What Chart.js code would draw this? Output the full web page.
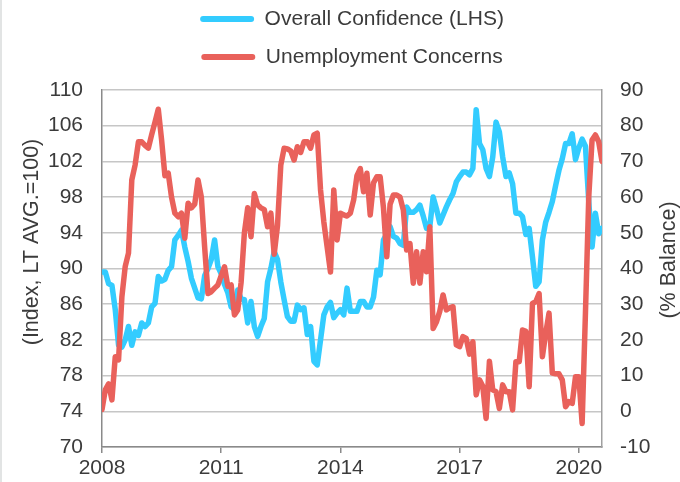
<!DOCTYPE html>
<html>
<head>
<meta charset="utf-8">
<script src="https://cdn.jsdelivr.net/npm/chart.js@4.4.1/dist/chart.umd.min.js"></script>
<style>
  html, body { margin: 0; padding: 0; background: #fff; }
  #wrap { position: relative; width: 680px; height: 482px; }
  #wrap::before { content: ''; position: absolute; left: 0; top: 0; bottom: 0; width: 2px; background: #e2e4e4; }
</style>
</head>
<body>
<div id="wrap"><canvas id="chart" width="680" height="482"></canvas></div>
<script>
// monthly series, Jan 2008 onwards
const startYear = 2008
const tickYears = [2008, 2011, 2014, 2017, 2020]
const seriesNames = ['Overall Confidence (LHS)', 'Unemployment Concerns']
const leftTitle = '(Index, LT AVG.=100)'
const rightTitle = '(% Balance)'

const confidence = [
  89.6, 89.6, 88.3, 88.1, 85.4, 81.4, 81.2, 82.0, 83.5, 81.4, 82.9, 82.5,
  83.9, 83.5, 83.9, 85.7, 86.1, 89.1, 88.6, 88.8, 89.8, 90.2, 93.2, 93.7,
  94.3, 92.4, 90.8, 88.9, 87.8, 86.7, 86.6, 89.2, 90.0, 91.0, 93.2, 90.2,
  89.4, 88.2, 87.3, 85.7, 85.4, 87.6, 86.6, 86.5, 83.9, 86.3, 83.5, 82.4,
  83.5, 84.4, 88.5, 90.0, 91.9, 91.0, 88.5, 86.5, 84.6, 84.1, 84.1, 85.9,
  85.4, 85.6, 82.6, 83.5, 79.6, 79.2, 82.0, 84.8, 85.7, 86.2, 84.5, 85.0,
  85.4, 84.8, 87.8, 85.2, 85.2, 85.2, 86.3, 86.3, 85.7, 85.7, 86.8, 89.8,
  89.3, 93.2, 93.9, 94.7, 93.6, 93.4, 92.8, 92.6, 96.9, 96.3, 96.3, 96.6,
  97.1, 95.9, 94.5, 94.7, 98.0, 96.7, 95.1, 96.0, 96.9, 97.7, 98.4, 99.7,
  100.3, 100.8, 100.8, 100.5, 101.2, 107.8, 104.0, 103.3, 101.2, 100.3, 102.5, 106.4,
  105.3, 102.5, 100.3, 100.7, 99.5, 96.2, 96.2, 95.8, 93.8, 94.5, 91.3, 88.0,
  88.5, 93.2, 95.2, 96.3, 97.5, 99.3, 101.0, 102.3, 104.0, 104.0, 105.1, 102.2,
  103.5, 104.5, 103.7, 97.5, 92.4, 96.2, 93.9, 94.5
]

const unemployment = [
  0.5, 6.0, 7.7, 3.2, 15.3, 14.4, 32, 40.5, 44.3, 64.8, 69, 75.5,
  75.5, 74.5, 73.7, 77.5, 81, 84.6, 76, 66, 66.7, 60, 55.5, 54.5,
  55.5, 48.5, 58.3, 57, 58, 64.8, 60, 46, 33, 33.5, 34.5, 35.4,
  38, 40.5, 35, 35.4, 27, 28.4, 36, 50, 57, 48.9, 61, 57.8,
  57, 56.5, 51.7, 55.5, 44, 52, 69, 73.7, 73.5, 72.9, 70.4, 74.1,
  72.5, 75.5, 75.5, 73.7, 77.4, 77.9, 62, 53, 46, 39, 62, 48,
  55.5, 55, 54.7, 55.5, 59.2, 66, 68, 61.5, 66.7, 55, 64, 65.7,
  65.7, 57, 43.3, 58, 60.6, 60.6, 60, 56.4, 45.2, 47, 35.9, 44.7,
  35.9, 44.7, 39.1, 51.7, 23.2, 25, 28, 32.6, 28.4, 29, 29.3, 18.6,
  18.1, 20.9, 20.4, 16, 19.5, 4.6, 8.8, 7, -2, 14, 6, 5.5,
  0.8, 7.4, 5.5, 5.5, 0.4, 13.9, 13.9, 22.8, 22.4, 6.9, 30.2, 30.7,
  33, 15.3, 21.8, 27.5, 10.7, 10.5, 10.5, 8.8, 1.3, 2.7, 2.2, 9.7,
  9.7, -3.4, 27.5, 60.1, 76, 77.4, 75.5, 70
]

// x position of each month as a fractional year
const months = confidence.map((_, i) => startYear + i / 12)

const font = '"Liberation Sans", Arial, sans-serif'
const textColor = '#3b3b3b'
const blue = '#33ccff'
const red = '#e9615b'

Chart.defaults.font.family = font
Chart.defaults.font.size = 21
Chart.defaults.color = textColor

// rotated axis titles, placed like the original (not centred on the axis)
const axisTitles = {
  id: 'axisTitles',
  afterDraw (chart) {
    const { ctx, chartArea } = chart
    ctx.save()
    ctx.font = '21.5px ' + font
    ctx.fillStyle = textColor
    ctx.textAlign = 'center'
    ctx.textBaseline = 'middle'
    const spots = [[leftTitle, 32, chartArea.top + 152], [rightTitle, 669, chartArea.top + 170]]
    for (const [text, x, y] of spots) {
      ctx.save()
      ctx.translate(x, y)
      ctx.rotate(-Math.PI / 2)
      ctx.fillText(text, 0, 0)
      ctx.restore()
    }
    ctx.restore()
  }
}

// leave some room between the legend and the plot
const legendGap = {
  id: 'legendGap',
  afterInit (chart) {
    const fit = chart.legend.fit
    chart.legend.fit = function () {
      fit.call(this)
      this.height += 12.5
    }
  }
}

const defaultLabels = Chart.defaults.plugins.legend.labels.generateLabels

new Chart(document.getElementById('chart'), {
  type: 'line',
  data: {
    labels: months,
    datasets: [
      {
        label: seriesNames[0],
        data: confidence,
        yAxisID: 'y',
        borderColor: blue,
        backgroundColor: blue,
        order: 1
      },
      {
        label: seriesNames[1],
        data: unemployment,
        yAxisID: 'y1',
        borderColor: red,
        backgroundColor: red,
        order: 0
      }
    ]
  },
  options: {
    responsive: false,
    animation: false,
    events: [],
    layout: { padding: { top: -8.5, left: 0, right: 0, bottom: 0 } },
    elements: {
      point: { radius: 0 },
      line: { borderWidth: 5.5, tension: 0, borderJoinStyle: 'round', borderCapStyle: 'round' }
    },
    plugins: {
      tooltip: { enabled: false },
      legend: {
        position: 'top',
        fullSize: false,
        labels: {
          boxWidth: 54,
          boxHeight: 6,
          useBorderRadius: true,
          borderRadius: 3,
          padding: 17,
          color: textColor,
          font: { size: 21 },
          sort: (a, b) => a.datasetIndex - b.datasetIndex,
          generateLabels: chart => defaultLabels(chart).map(l => ({ ...l, lineWidth: 0 }))
        }
      }
    },
    scales: {
      x: {
        type: 'linear',
        min: startYear,
        max: months[months.length - 1],
        afterBuildTicks: s => { s.ticks = tickYears.map(value => ({ value })) },
        afterFit: s => { s.height = 35 },
        ticks: { padding: 3, maxRotation: 0, autoSkip: false, callback: v => String(v) },
        grid: { drawOnChartArea: false, drawTicks: true, tickLength: 6, color: '#8a8a8a', lineWidth: 1.5 },
        border: { color: '#8a8a8a', width: 1.5 }
      },
      y: {
        position: 'left',
        min: 70,
        max: 110,
        afterFit: s => { s.width = 102 },
        ticks: { stepSize: 4, padding: 19 },
        grid: { color: '#c6c6c6', lineWidth: 1.5, drawTicks: false },
        border: { color: '#8a8a8a', width: 1.5 }
      },
      y1: {
        position: 'right',
        min: -10,
        max: 90,
        afterFit: s => { s.width = 78 },
        ticks: { stepSize: 10, padding: 18 },
        grid: { drawOnChartArea: false, drawTicks: false },
        border: { color: '#a0a0a0', width: 1.5 }
      }
    }
  },
  plugins: [axisTitles, legendGap]
})
</script>
</body>
</html>
